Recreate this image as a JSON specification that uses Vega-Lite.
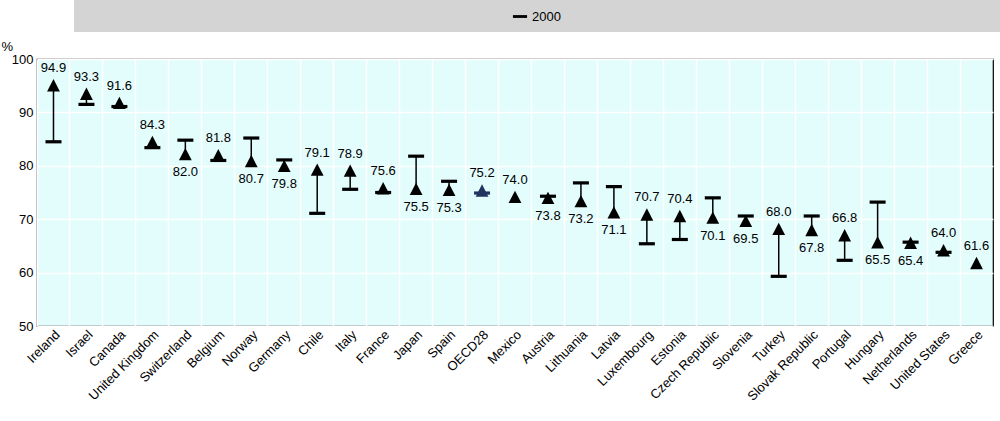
{
  "$schema": "https://vega.github.io/schema/vega-lite/v6.json",
  "width": 956,
  "height": 267,
  "autosize": {"type": "none"},
  "padding": {"left": 37, "top": 59, "right": 7, "bottom": 95},
  "background": "white",
  "data": {
    "values": [
      {"country": "Ireland", "v2000": 84.5, "v2017": 94.9},
      {"country": "Israel", "v2000": 91.5, "v2017": 93.3},
      {"country": "Canada", "v2000": 91.1, "v2017": 91.6},
      {"country": "United Kingdom", "v2000": 83.4, "v2017": 84.3},
      {"country": "Switzerland", "v2000": 84.8, "v2017": 82.0},
      {"country": "Belgium", "v2000": 81.0, "v2017": 81.8},
      {"country": "Norway", "v2000": 85.2, "v2017": 80.7},
      {"country": "Germany", "v2000": 81.1, "v2017": 79.8},
      {"country": "Chile", "v2000": 71.1, "v2017": 79.1},
      {"country": "Italy", "v2000": 75.6, "v2017": 78.9},
      {"country": "France", "v2000": 75.0, "v2017": 75.6},
      {"country": "Japan", "v2000": 81.8, "v2017": 75.5},
      {"country": "Spain", "v2000": 77.1, "v2017": 75.3},
      {"country": "OECD28", "v2000": 74.9, "v2017": 75.2},
      {"country": "Mexico", "v2000": null, "v2017": 74.0},
      {"country": "Austria", "v2000": 74.3, "v2017": 73.8},
      {"country": "Lithuania", "v2000": 76.8, "v2017": 73.2},
      {"country": "Latvia", "v2000": 76.1, "v2017": 71.1},
      {"country": "Luxembourg", "v2000": 65.4, "v2017": 70.7},
      {"country": "Estonia", "v2000": 66.2, "v2017": 70.4},
      {"country": "Czech Republic", "v2000": 74.0, "v2017": 70.1},
      {"country": "Slovenia", "v2000": 70.6, "v2017": 69.5},
      {"country": "Turkey", "v2000": 59.3, "v2017": 68.0},
      {"country": "Slovak Republic", "v2000": 70.6, "v2017": 67.8},
      {"country": "Portugal", "v2000": 62.3, "v2017": 66.8},
      {"country": "Hungary", "v2000": 73.2, "v2017": 65.5},
      {"country": "Netherlands", "v2000": 65.7, "v2017": 65.4},
      {"country": "United States", "v2000": 63.8, "v2017": 64.0},
      {"country": "Greece", "v2000": null, "v2017": 61.6}
    ]
  },
  "encoding": {
    "x": {
      "field": "country",
      "type": "nominal",
      "sort": ["Ireland", "Israel", "Canada", "United Kingdom", "Switzerland", "Belgium", "Norway", "Germany", "Chile", "Italy", "France", "Japan", "Spain", "OECD28", "Mexico", "Austria", "Lithuania", "Latvia", "Luxembourg", "Estonia", "Czech Republic", "Slovenia", "Turkey", "Slovak Republic", "Portugal", "Hungary", "Netherlands", "United States", "Greece"],
      "scale": {"paddingInner": 0, "paddingOuter": 0},
      "axis": {
        "title": null,
        "labelAngle": -45,
        "labelAlign": "right",
        "labelBaseline": "top",
        "labelFontSize": 13,
        "labelColor": "black",
        "labelFont": "Liberation Sans Narrow, Liberation Sans",
        "bandPosition": 0,
        "grid": true,
        "gridColor": "white",
        "gridWidth": 1.5,
        "ticks": false,
        "domain": false,
        "labelPadding": 2
      }
    }
  },
  "layer": [
    {
      "transform": [{"filter": "datum.v2000 != null"}],
      "mark": {"type": "rule", "color": "black", "strokeWidth": 1.5},
      "encoding": {
        "y": {
          "field": "v2000",
          "type": "quantitative",
          "scale": {"domain": [50, 100], "nice": false},
          "axis": {
            "title": "%",
            "titleAngle": 0,
            "titleAlign": "left",
            "titleBaseline": "bottom",
            "titleX": -36,
            "titleY": -6,
            "titleFontSize": 13,
            "titleFontWeight": "normal",
            "titleFont": "Liberation Sans Narrow, Liberation Sans",
            "values": [50, 60, 70, 80, 90, 100],
            "labelFontSize": 13,
            "labelColor": "black",
            "labelFont": "Liberation Sans Narrow, Liberation Sans",
            "grid": true,
            "gridColor": "white",
            "gridWidth": 1.5,
            "ticks": false,
            "domain": false,
            "labelPadding": 4
          }
        },
        "y2": {"field": "v2017"}
      }
    },
    {
      "transform": [
        {"fold": ["v2000", "v2017"], "as": ["series", "val"]},
        {"filter": "datum.val != null"},
        {"calculate": "datum.series == 'v2000' ? '2000' : '2017'", "as": "Series"}
      ],
      "mark": {"type": "point", "filled": true, "opacity": 1, "size": 256},
      "encoding": {
        "y": {"field": "val", "type": "quantitative"},
        "shape": {
          "field": "Series",
          "type": "nominal",
          "scale": {
            "domain": ["2000", "2017"],
            "range": ["M-1,-0.2H1V0.2H-1Z", "M0,-0.9L0.8,0.65H-0.8Z"]
          },
          "legend": {
            "title": null,
            "orient": "none",
            "legendX": 37,
            "legendY": -59,
            "direction": "horizontal",
            "fillColor": "#d4d4d4",
            "padding": 8,
            "columnPadding": 130,
            "symbolSize": 200,
            "symbolFillColor": "black",
            "symbolStrokeColor": "black",
            "labelFontSize": 13,
            "labelFont": "Liberation Sans Narrow, Liberation Sans",
            "labelColor": "black",
            "symbolOffset": 430
          }
        },
        "color": {
          "condition": {"test": "datum.country == 'OECD28'", "value": "#1f3560"},
          "value": "black"
        }
      }
    },
    {
      "transform": [{"filter": "datum.v2000 == null || datum.v2017 >= datum.v2000"}],
      "mark": {"type": "text", "baseline": "bottom", "dy": -11, "fontSize": 13, "font": "Liberation Sans Narrow, Liberation Sans", "color": "black"},
      "encoding": {
        "y": {"field": "v2017", "type": "quantitative"},
        "text": {"field": "v2017", "type": "quantitative", "format": ".1f"}
      }
    },
    {
      "transform": [{"filter": "datum.v2000 != null && datum.v2017 < datum.v2000"}],
      "mark": {"type": "text", "baseline": "top", "dy": 11, "fontSize": 13, "font": "Liberation Sans Narrow, Liberation Sans", "color": "black"},
      "encoding": {
        "y": {"field": "v2017", "type": "quantitative"},
        "text": {"field": "v2017", "type": "quantitative", "format": ".1f"}
      }
    }
  ],
  "config": {
    "view": {"fill": "#e3fcfc", "stroke": "black", "strokeWidth": 1.2}
  }
}
